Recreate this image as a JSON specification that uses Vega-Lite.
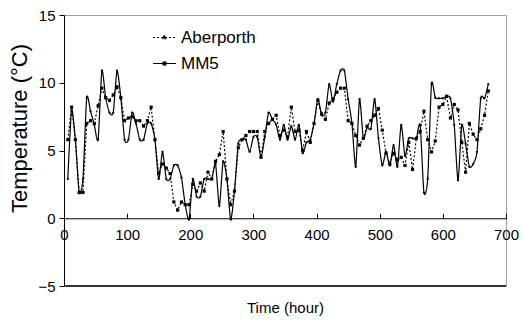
{
"$schema":"https://vega.github.io/schema/vega-lite/v6.json",
"width":442,"height":271,
"autosize":"none",
"padding":{"left":64,"top":15,"right":18,"bottom":37},
"config":{"font":"Liberation Sans","view":{"stroke":"#a0a0a0","strokeWidth":1},
 "axis":{"grid":false,"domainColor":"black","tickColor":"black","labelColor":"black","titleColor":"black","titleFontWeight":"normal","labelFontSize":15,"domainWidth":1,"tickWidth":1}},
"data":{"values":[
{"h":6,"Aberporth":5.8,"MM5":2.9},{"h":12,"Aberporth":8.2,"MM5":8.0},{"h":18,"Aberporth":5.8,"MM5":5.8},{"h":24,"Aberporth":1.9,"MM5":1.9},{"h":30,"Aberporth":1.9,"MM5":2.9},{"h":36,"Aberporth":7.0,"MM5":8.9},{"h":42,"Aberporth":7.2,"MM5":7.9},{"h":48,"Aberporth":7.0,"MM5":6.9},{"h":54,"Aberporth":8.3,"MM5":5.8},{"h":60,"Aberporth":9.6,"MM5":10.9},
{"h":66,"Aberporth":8.9,"MM5":8.9},{"h":72,"Aberporth":8.7,"MM5":7.8},{"h":78,"Aberporth":9.1,"MM5":7.8},{"h":84,"Aberporth":9.7,"MM5":10.9},{"h":90,"Aberporth":8.9,"MM5":8.9},{"h":96,"Aberporth":7.2,"MM5":5.8},{"h":102,"Aberporth":7.4,"MM5":5.8},{"h":108,"Aberporth":7.5,"MM5":7.8},{"h":114,"Aberporth":7.2,"MM5":7.0},{"h":120,"Aberporth":7.2,"MM5":5.8},
{"h":126,"Aberporth":6.8,"MM5":5.8},{"h":132,"Aberporth":7.2,"MM5":7.0},{"h":138,"Aberporth":8.2,"MM5":7.0},{"h":144,"Aberporth":5.8,"MM5":5.8},{"h":150,"Aberporth":3.3,"MM5":2.9},{"h":156,"Aberporth":4.0,"MM5":4.9},{"h":162,"Aberporth":3.7,"MM5":2.9},{"h":168,"Aberporth":3.3,"MM5":2.9},{"h":174,"Aberporth":1.2,"MM5":3.9},{"h":180,"Aberporth":0.6,"MM5":3.9},
{"h":186,"Aberporth":1.2,"MM5":3.0},{"h":192,"Aberporth":1.0,"MM5":1.0},{"h":198,"Aberporth":1.0,"MM5":-0.1},{"h":204,"Aberporth":2.5,"MM5":2.9},{"h":210,"Aberporth":2.0,"MM5":1.6},{"h":216,"Aberporth":2.6,"MM5":1.6},{"h":222,"Aberporth":2.0,"MM5":2.9},{"h":228,"Aberporth":3.4,"MM5":2.9},{"h":234,"Aberporth":2.9,"MM5":2.9},{"h":240,"Aberporth":4.2,"MM5":4.0},
{"h":246,"Aberporth":4.7,"MM5":0.9},{"h":252,"Aberporth":6.4,"MM5":4.2},{"h":258,"Aberporth":2.9,"MM5":2.9},{"h":264,"Aberporth":1.0,"MM5":-0.1},{"h":270,"Aberporth":2.0,"MM5":2.0},{"h":276,"Aberporth":5.2,"MM5":5.5},{"h":282,"Aberporth":5.8,"MM5":5.8},{"h":288,"Aberporth":6.1,"MM5":5.8},{"h":294,"Aberporth":6.4,"MM5":4.9},{"h":300,"Aberporth":6.4,"MM5":6.0},
{"h":306,"Aberporth":6.4,"MM5":6.0},{"h":312,"Aberporth":4.5,"MM5":4.5},{"h":318,"Aberporth":6.4,"MM5":6.0},{"h":324,"Aberporth":7.0,"MM5":7.8},{"h":330,"Aberporth":7.3,"MM5":7.3},{"h":336,"Aberporth":7.6,"MM5":6.9},{"h":342,"Aberporth":6.1,"MM5":5.8},{"h":348,"Aberporth":6.5,"MM5":6.9},{"h":354,"Aberporth":6.0,"MM5":5.8},{"h":360,"Aberporth":8.2,"MM5":6.8},
{"h":366,"Aberporth":6.4,"MM5":5.8},{"h":372,"Aberporth":6.5,"MM5":6.9},{"h":378,"Aberporth":5.0,"MM5":4.8},{"h":384,"Aberporth":6.4,"MM5":5.6},{"h":390,"Aberporth":5.6,"MM5":5.8},{"h":396,"Aberporth":7.0,"MM5":7.0},{"h":402,"Aberporth":8.7,"MM5":8.8},{"h":408,"Aberporth":7.7,"MM5":7.6},{"h":414,"Aberporth":7.3,"MM5":7.8},{"h":420,"Aberporth":8.5,"MM5":9.9},
{"h":426,"Aberporth":8.8,"MM5":8.6},{"h":432,"Aberporth":9.3,"MM5":9.9},{"h":438,"Aberporth":9.6,"MM5":10.9},{"h":444,"Aberporth":9.6,"MM5":10.9},{"h":450,"Aberporth":7.2,"MM5":8.8},{"h":456,"Aberporth":7.0,"MM5":7.0},{"h":462,"Aberporth":6.1,"MM5":3.8},{"h":468,"Aberporth":5.4,"MM5":8.8},{"h":474,"Aberporth":5.9,"MM5":5.9},{"h":480,"Aberporth":6.8,"MM5":6.7},
{"h":486,"Aberporth":7.2,"MM5":6.6},{"h":492,"Aberporth":7.6,"MM5":8.8},{"h":498,"Aberporth":8.1,"MM5":5.9},{"h":504,"Aberporth":6.5,"MM5":3.9},{"h":510,"Aberporth":4.8,"MM5":4.9},{"h":516,"Aberporth":4.0,"MM5":3.9},{"h":522,"Aberporth":4.8,"MM5":5.4},{"h":528,"Aberporth":4.3,"MM5":3.8},{"h":534,"Aberporth":4.5,"MM5":6.9},{"h":540,"Aberporth":3.9,"MM5":4.6},
{"h":546,"Aberporth":5.6,"MM5":5.9},{"h":552,"Aberporth":3.6,"MM5":5.9},{"h":558,"Aberporth":5.9,"MM5":5.9},{"h":564,"Aberporth":6.4,"MM5":6.9},{"h":570,"Aberporth":7.9,"MM5":1.9},{"h":576,"Aberporth":5.8,"MM5":2.9},{"h":582,"Aberporth":4.9,"MM5":9.9},{"h":588,"Aberporth":5.7,"MM5":8.9},{"h":594,"Aberporth":8.2,"MM5":8.85},{"h":600,"Aberporth":8.4,"MM5":8.85},
{"h":606,"Aberporth":9.0,"MM5":9.0},{"h":612,"Aberporth":7.4,"MM5":8.85},{"h":618,"Aberporth":8.4,"MM5":6.9},{"h":624,"Aberporth":8.0,"MM5":2.8},{"h":630,"Aberporth":5.6,"MM5":6.9},{"h":636,"Aberporth":3.4,"MM5":5.5},{"h":642,"Aberporth":7.0,"MM5":3.8},{"h":648,"Aberporth":6.2,"MM5":4.0},{"h":654,"Aberporth":5.8,"MM5":4.9},{"h":660,"Aberporth":6.6,"MM5":8.85},
{"h":666,"Aberporth":7.6,"MM5":8.85},{"h":672,"Aberporth":9.4,"MM5":9.9}
]},
"transform":[{"fold":["Aberporth","MM5"],"as":["s","T"]}],
"encoding":{
 "x":{"field":"h","type":"quantitative","scale":{"domain":[0,700],"nice":false,"zero":false},
  "axis":{"values":[0,100,200,300,400,500,600,700],"offset":-67.75,"tickSize":-5,"labelPadding":14,"title":"Time (hour)","titleFontSize":15,"titleY":94,"titleBaseline":"alphabetic","labelFlush":false}},
 "y":{"field":"T","type":"quantitative","scale":{"domain":[-5,15],"nice":false,"zero":false},
  "axis":{"values":[-5,0,5,10,15],"tickSize":5,"labelPadding":4,"title":"Temperature (°C)","titleFontSize":22,"titlePadding":6,"titleY":113}}
},
"layer":[
 {"transform":[{"filter":"datum.s==='Aberporth'"}],"mark":{"type":"line","strokeWidth":1.2,"color":"black"},
  "encoding":{"strokeDash":{"field":"s","type":"nominal","scale":{"domain":["Aberporth","MM5"],"range":[[2,2],[1,0]]},
   "legend":{"title":null,"orient":"none","legendX":88,"legendY":10,"labelFontSize":17,"labelColor":"black","symbolType":"M-1,0H1M-0.12,-0.12H0.12V0.12H-0.12Z","symbolSize":520,"symbolStrokeWidth":1.2,"symbolStrokeColor":"black","symbolFillColor":"black","rowPadding":5,"labelOffset":4}}}},
 {"transform":[{"filter":"datum.s==='MM5'"}],"mark":{"type":"line","interpolate":"cardinal","tension":0.35,"strokeWidth":1.2,"color":"black"},
  "encoding":{"strokeDash":{"field":"s","type":"nominal"}}},
 {"transform":[{"filter":"datum.s==='Aberporth'"}],"mark":{"type":"point","shape":"square","filled":true,"size":10,"color":"black","opacity":1}},
 {"transform":[{"filter":"datum.s==='MM5'"}],"mark":{"type":"point","shape":"circle","filled":true,"size":5,"color":"black","opacity":1}},
 {"mark":{"type":"rule","color":"#333","strokeWidth":1},"encoding":{"x":{"datum":0},"x2":{"datum":700},"y":{"datum":-5}}}
]
}
